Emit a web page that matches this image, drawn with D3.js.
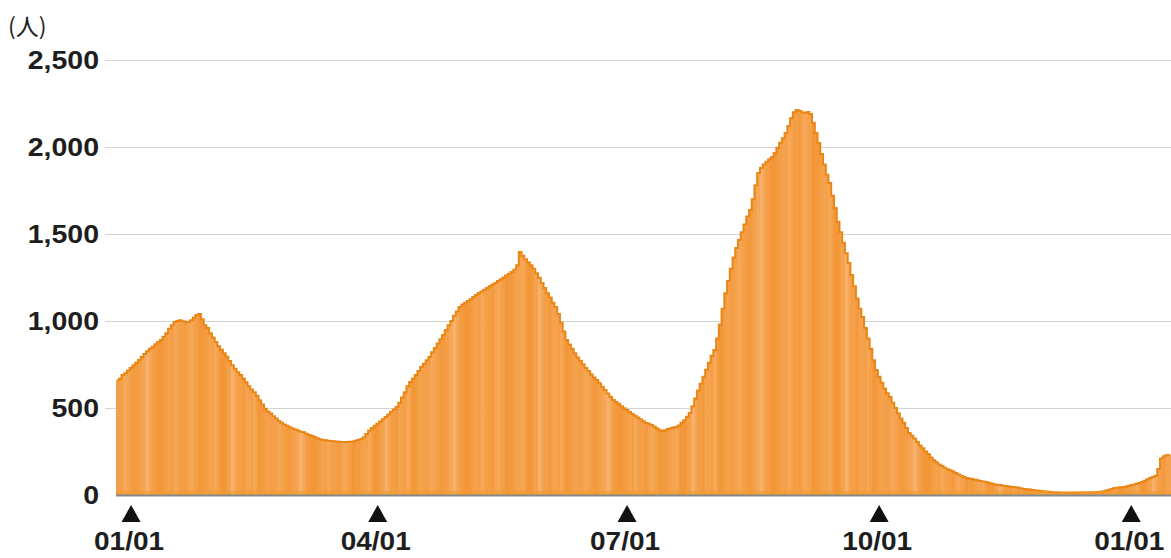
<!DOCTYPE html>
<html>
<head>
<meta charset="utf-8">
<script src="https://cdn.jsdelivr.net/npm/d3@7"></script>
<style>
  html, body { margin: 0; padding: 0; background: #ffffff; }
  svg { display: block; }
</style>
</head>
<body>
<svg id="chart" width="1171" height="558"></svg>
<script>
// ---- DATA ----
const startDate = "2020-12-27";
const values = [
  660, 668, 690, 700, 716, 730, 745, 760, 776, 793,
  810, 826, 840, 852, 866, 880, 891, 910, 930, 955,
  975, 994, 1000, 1004, 998, 996, 994, 1005, 1020, 1034,
  1040, 1010, 975, 960, 930, 905, 880, 855, 835, 815,
  795, 770, 745, 725, 705, 690, 670, 648, 625, 606,
  590, 570, 545, 520, 495, 480, 468, 452, 440, 425,
  415, 405, 398, 390, 382, 377, 370, 364, 360, 352,
  345, 340, 333, 326, 320, 316, 314, 312, 310, 309,
  308, 306, 305, 304, 305, 306, 308, 312, 316, 322,
  332, 350, 370, 385, 398, 410, 422, 435, 448, 462,
  478, 492, 506, 530, 560, 590, 625, 650, 670, 690,
  712, 735, 755, 775, 793, 820, 845, 870, 895, 920,
  948, 975, 1000, 1030, 1055, 1080, 1095, 1105, 1115, 1125,
  1138, 1150, 1161, 1170, 1180, 1190, 1200, 1210, 1218, 1230,
  1240, 1250, 1262, 1272, 1282, 1295, 1320, 1397, 1375, 1355,
  1338, 1320, 1300, 1275, 1248, 1218, 1190, 1160, 1135, 1105,
  1080, 1040, 990, 940, 891, 865, 840, 815, 790, 772,
  752, 730, 712, 693, 676, 661, 642, 622, 603, 584,
  565, 546, 535, 524, 510, 498, 488, 477, 466, 455,
  445, 435, 424, 414, 410, 402, 392, 382, 372, 368,
  372, 380, 384, 388, 391, 400, 415, 430, 450, 471,
  510, 555, 600, 640, 680, 720, 760, 800, 833, 900,
  980, 1070, 1160, 1230, 1300, 1365, 1420, 1465, 1510, 1555,
  1600, 1638, 1700, 1780, 1850, 1880, 1900, 1915, 1930, 1942,
  1965, 1995, 2025, 2050, 2080, 2120, 2165, 2200, 2212, 2208,
  2200, 2195, 2201, 2190, 2140, 2080, 2023, 1960, 1900, 1840,
  1793, 1720, 1650, 1570, 1510, 1450, 1390, 1333, 1265, 1200,
  1130, 1070, 1023, 960, 900, 840, 775, 718, 680, 645,
  612, 585, 563, 530, 500, 470, 440, 415, 385, 356,
  340, 325, 305, 285, 268, 250, 235, 215, 200, 188,
  176, 166, 156, 148, 142, 135, 126, 118, 110, 104,
  98, 95, 92, 88, 85, 80, 77, 74, 70, 66,
  62, 59, 57, 55, 52, 50, 48, 46, 44, 42,
  38, 35, 33, 31, 29, 27, 25, 23, 22, 20,
  18, 17, 15, 14, 13, 12, 11, 11, 12, 12,
  13, 13, 14, 14, 15, 15, 16, 16, 17, 18,
  22, 26, 30, 35, 40, 42, 44, 46, 48, 52,
  56, 60, 65, 69, 75, 82, 90, 98, 103, 110,
  150, 210, 222, 228, 232
];
const yTicks = [0, 500, 1000, 1500, 2000, 2500];
const xTickDates = ["2021-01-01", "2021-04-01", "2021-07-01", "2021-10-01", "2022-01-01"];
const xTickLabels = ["01/01", "04/01", "07/01", "10/01", "01/01"];
const unitLabel = "(人)";

// ---- BUILD ----
(function () {
const parse = d3.timeParse("%Y-%m-%d");
const d0 = parse(startDate);
const data = values.map((v, i) => ({ date: d3.timeDay.offset(d0, i), value: v, i }));

const svg = d3.select("#chart");
const mLeft = 116, mRight = 1171, mTop = 60, mBottom = 495;

const x = d3.scaleBand()
  .domain(data.map(d => +d.date))
  .range([mLeft, mRight])
  .padding(0);

const y = d3.scaleLinear().domain([0, 2500]).range([mBottom, mTop]);

// gridlines
svg.append("g")
  .selectAll("line")
  .data(yTicks.filter(t => t > 0))
  .join("line")
  .attr("x1", 105).attr("x2", 1171)
  .attr("y1", d => Math.round(y(d)) + 0.5)
  .attr("y2", d => Math.round(y(d)) + 0.5)
  .attr("stroke", "#d4d4d4")
  .attr("stroke-width", 1);

// bar shade pattern (styling only)
const shades = ["#f49e45", "#f6a858", "#f39a3e", "#f7b270", "#f5a24e", "#f29637"];
const shadeSeq = [0,0,4,1,4,0,2,2,0,4,1,3,1,0,2,5,5,2,0,4,0,1,4,0,0,2,4,1,4,0,5,2,
                  2,0,4,4,1,0,5,5,0,4,3,1,0,0,2,4,4,0,1,0,5,2,0,4];

svg.append("g")
  .selectAll("rect")
  .data(data)
  .join("rect")
  .attr("x", d => x(+d.date))
  .attr("width", x.bandwidth() + 0.6)
  .attr("y", d => y(d.value))
  .attr("height", d => mBottom - y(d.value))
  .attr("fill", d => shades[shadeSeq[d.i % shadeSeq.length]]);

// top outline
const line = d3.line()
  .x(d => x(+d.date) + x.bandwidth() / 2)
  .y(d => y(d.value))
  .curve(d3.curveStep);
svg.append("path")
  .datum(data)
  .attr("d", line)
  .attr("fill", "none")
  .attr("stroke", "#ea8616")
  .attr("stroke-width", 2);

// slight deeper band near baseline
svg.append("rect")
  .attr("x", mLeft).attr("width", mRight - mLeft)
  .attr("y", mBottom - 4).attr("height", 4)
  .attr("fill", "#f29a2a").attr("opacity", 0.6);

// baseline
svg.append("line")
  .attr("x1", mLeft).attr("x2", mRight)
  .attr("y1", mBottom + 0.5).attr("y2", mBottom + 0.5)
  .attr("stroke", "#7f8b8f").attr("stroke-width", 2);

// y labels
const fmt = d3.format(",");
svg.append("g")
  .selectAll("text")
  .data(yTicks)
  .join("text")
  .attr("transform", d => `translate(99,${y(d) + 9}) scale(1.14,1)`)
  .attr("text-anchor", "end")
  .attr("font-family", "Liberation Sans, Arial, sans-serif")
  .attr("font-weight", "bold")
  .attr("font-size", 25)
  .attr("fill", "#1e1e1e")
  .text(d => fmt(d));

// unit label
svg.append("text")
  .attr("x", 8).attr("y", 35)
  .attr("font-family", "Noto Sans CJK JP, sans-serif")
  .attr("font-size", 23)
  .attr("fill", "#1e1e1e")
  .text(unitLabel);

// x ticks: triangles + labels
const xt = xTickDates.map((s, k) => ({ date: parse(s), label: xTickLabels[k] }));
const cx = d => x(+d.date) + x.bandwidth() / 2;

svg.append("g")
  .selectAll("path")
  .data(xt)
  .join("path")
  .attr("d", d => {
    const c = cx(d);
    return `M${c - 9.5},522 L${c + 9.5},522 L${c},505 Z`;
  })
  .attr("fill", "#111");

svg.append("g")
  .selectAll("text")
  .data(xt)
  .join("text")
  .attr("transform", d => `translate(${cx(d) - 2},550) scale(1.12,1)`)
  .attr("text-anchor", "middle")
  .attr("font-family", "Liberation Sans, Arial, sans-serif")
  .attr("font-weight", "bold")
  .attr("font-size", 25)
  .attr("fill", "#1e1e1e")
  .text(d => d.label);
})();
</script>
</body>
</html>
